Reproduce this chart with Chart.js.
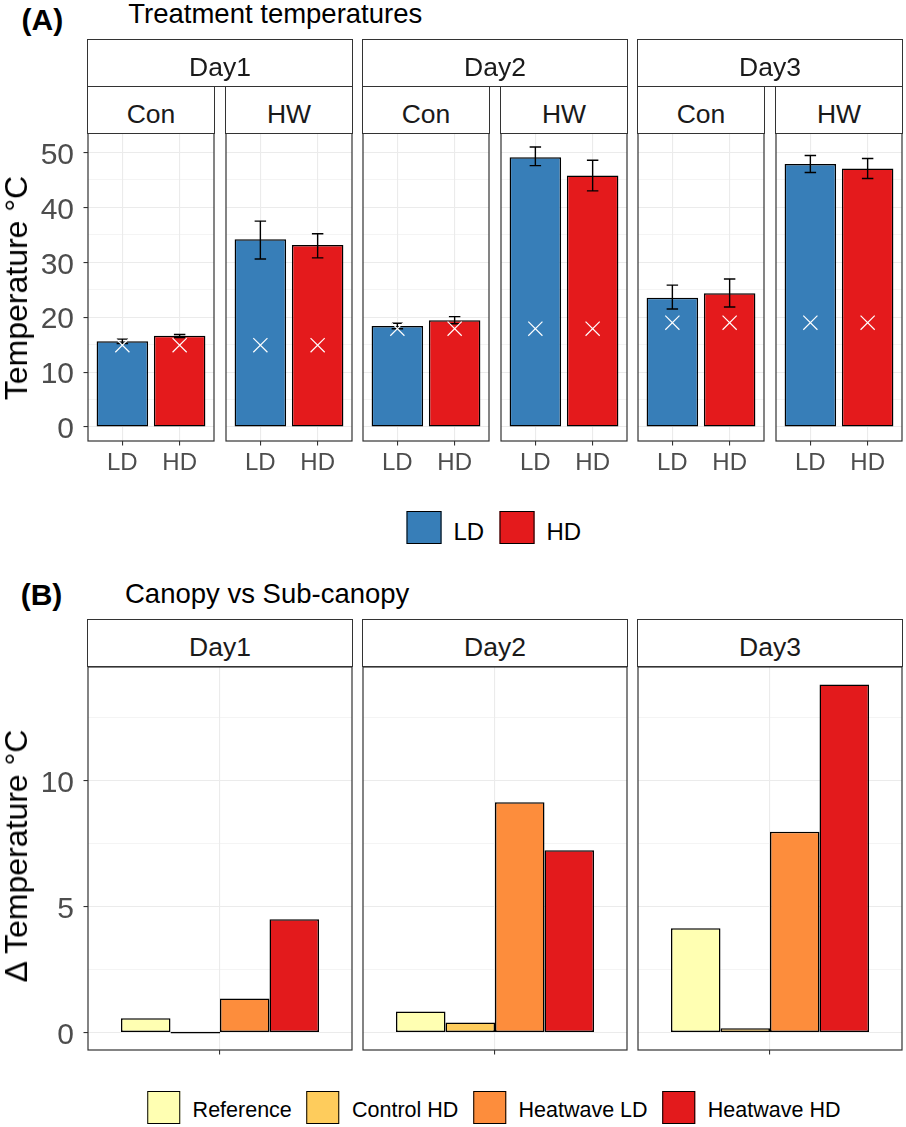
<!DOCTYPE html>
<html><head><meta charset="utf-8">
<script src="https://cdn.jsdelivr.net/npm/chart.js@4.4.0/dist/chart.umd.min.js"></script>
<style>
html,body{margin:0;padding:0;background:#fff;}
#fig{position:relative;width:906px;height:1127px;overflow:hidden;font-family:'Liberation Sans',Arial,sans-serif;background:#fff;}
.txt{position:absolute;white-space:nowrap;line-height:1;color:#000;}
.strip{position:absolute;box-sizing:border-box;border:1.2px solid #333;background:#fff;}
.strip span{position:absolute;left:0;right:0;text-align:center;line-height:1;font-size:26.5px;color:#1a1a1a;white-space:nowrap;}
canvas{position:absolute;}
.legend{position:absolute;display:flex;align-items:center;transform:translateX(-50%);white-space:nowrap;}
.key{box-sizing:border-box;border:1.4px solid #000;flex:none;}
.lab{line-height:1;position:relative;}
</style></head>
<body><div id="fig"></div>
<script>
// ---------------- DATA ----------------
// Panel (A): panels ordered Day1-Con, Day1-HW, Day2-Con, Day2-HW, Day3-Con, Day3-HW
const days = ['Day1', 'Day2', 'Day3'];
const treatments = ['Con', 'HW'];
const densities = ['LD', 'HD'];
const meanLD = [15.6, 34.2, 18.4, 49.15, 23.55, 47.9];
const meanHD = [16.6, 33.15, 19.45, 45.8, 24.35, 47.1];
const lowLD  = [15.2, 30.6, 17.9, 47.6, 21.5, 46.35];
const highLD = [16.0, 37.5, 18.9, 51.0, 25.85, 49.45];
const lowHD  = [16.3, 30.8, 18.8, 43.0, 21.85, 45.25];
const highHD = [16.85, 35.2, 20.1, 48.6, 26.95, 48.9];
const crossTemp = [14.9, 14.9, 17.9, 17.9, 19.0, 19.0];
const yTicksA = [0, 5, 10, 15, 20, 25, 30, 35, 40, 45, 50];
const yLabelsA = [0, 10, 20, 30, 40, 50];

// Panel (B)
const groupsB = ['Reference', 'Control HD', 'Heatwave LD', 'Heatwave HD'];
const reference  = [0.57, 0.84, 4.14];
const controlHD  = [0.0, 0.40, 0.17];
const heatwaveLD = [1.35, 9.14, 7.97];
const heatwaveHD = [4.50, 7.24, 13.82];
const yTicksB = [0, 2.5, 5, 7.5, 10, 12.5];
const yLabelsB = [0, 5, 10];

// ---------------- STYLE / LAYOUT ----------------
const FONT = "'Liberation Sans', Arial, sans-serif";
const colA = ['#377EB8', '#E41A1C'];
const colB = ['#FFFFB2', '#FECC5C', '#FD8D3C', '#E31A1C'];
const GRID = '#EBEBEB', DARK = '#333333', TICKTXT = '#4D4D4D';
const BARLINE = 1.5;

const fig = document.getElementById('fig');
function addText(txt, css) {
  const d = document.createElement('div');
  d.className = 'txt'; d.textContent = txt;
  Object.assign(d.style, css);
  fig.appendChild(d); return d;
}
function addStrip(label, left, top, width, height) {
  const d = document.createElement('div');
  d.className = 'strip';
  Object.assign(d.style, {left: (left - 0.6) + 'px', top: top + 'px', width: (width + 1.2) + 'px', height: height + 'px'});
  const s = document.createElement('span');
  s.textContent = label; s.style.top = '13.7px';
  d.appendChild(s); fig.appendChild(d);
}
function addLegend(items, colors, cx, top, box, fontSize, gapIn, gapOut, shift) {
  const lg = document.createElement('div');
  lg.className = 'legend';
  Object.assign(lg.style, {left: cx + 'px', top: top + 'px'});
  items.forEach((it, i) => {
    const k = document.createElement('div');
    k.className = 'key';
    Object.assign(k.style, {width: box[0] + 'px', height: box[1] + 'px', background: colors[i], marginLeft: (i ? gapOut : 0) + 'px'});
    const t = document.createElement('div');
    t.className = 'lab'; t.textContent = it;
    Object.assign(t.style, {fontSize: fontSize + 'px', marginLeft: gapIn + 'px', top: shift + 'px'});
    lg.appendChild(k); lg.appendChild(t);
  });
  fig.appendChild(lg);
}

// plugins
const panelBorder = {
  id: 'panelBorder',
  afterDraw(chart) {
    const {ctx, chartArea: a} = chart;
    ctx.save(); ctx.strokeStyle = DARK; ctx.lineWidth = 1.2;
    ctx.strokeRect(a.left, a.top, a.right - a.left, a.bottom - a.top);
    ctx.restore();
  }
};
const errorBars = {
  id: 'errorBars',
  afterDatasetDraw(chart, args) {
    const ds = chart.data.datasets[args.index];
    if (!ds.err) return;
    const {ctx} = chart; const x = chart.scales.x, y = chart.scales.y;
    ctx.save(); ctx.strokeStyle = '#000'; ctx.lineWidth = 1.4;
    ds.data.forEach((pt, i) => {
      const [lo, hi] = ds.err[i];
      const cx = x.getPixelForValue(pt.x);
      const hw = x.getPixelForValue(pt.x + 0.1) - cx;
      const yl = y.getPixelForValue(lo), yh = y.getPixelForValue(hi);
      ctx.beginPath();
      ctx.moveTo(cx, yl); ctx.lineTo(cx, yh);
      ctx.moveTo(cx - hw, yl); ctx.lineTo(cx + hw, yl);
      ctx.moveTo(cx - hw, yh); ctx.lineTo(cx + hw, yh);
      ctx.stroke();
    });
    ctx.restore();
  }
};

function yScale(min, max, ticks, labels, first, axisW) {
  return {
    min, max, display: true,
    afterBuildTicks: s => { s.ticks = ticks.map(v => ({value: v})); },
    afterFit: s => { s.width = axisW; s.paddingTop = 0; s.paddingBottom = 0; s.paddingLeft = 0; s.paddingRight = 0; },
    border: {display: false},
    grid: {
      color: GRID,
      lineWidth: c => (c.tick && labels.includes(c.tick.value)) ? 1.1 : 0.55,
      drawTicks: first, tickLength: 4.5, tickWidth: 1.1,
      tickColor: c => (c.tick && labels.includes(c.tick.value)) ? DARK : 'rgba(0,0,0,0)'
    },
    ticks: {
      display: first, autoSkip: false, padding: 9.5, labelOffset: 3, color: TICKTXT,
      font: {family: FONT, size: 30},
      callback: v => labels.includes(v) ? String(v) : ''
    }
  };
}

function makeCanvas(left, top, w, h) {
  const c = document.createElement('canvas');
  c.width = w; c.height = h;
  Object.assign(c.style, {left: left + 'px', top: top + 'px', width: w + 'px', height: h + 'px'});
  fig.appendChild(c); return c.getContext('2d');
}

const baseOpts = {
  responsive: false, animation: false, events: [],
  plugins: {legend: {display: false}, tooltip: {enabled: false}}
};

// ---------------- PANEL (A) ----------------
const PW = 126, PITCH = 137.5, X0 = 88;
const panelLeftA = [0, 1, 2, 3, 4, 5].map(i => Math.round(X0 + i * PITCH));
const topA = 133, hA = 308, xAxisHA = 40;
const yMaxDataA = Math.max(...highLD, ...highHD);
const yMinA = -0.05 * yMaxDataA, yMaxA = yMaxDataA * 1.05;

panelLeftA.forEach((pl, p) => {
  const first = p === 0;
  const padL = first ? 0 : 3, axisW = first ? pl : 0;
  const cLeft = first ? 0 : pl - 3;
  const w = padL + axisW + PW + 3, h = 3 + hA + xAxisHA;
  const ctx = makeCanvas(cLeft, topA - 3, w, h);
  new Chart(ctx, {
    type: 'bar',
    data: {
      datasets: [
        {type: 'line', label: 'ambient', order: -1, showLine: false,
         data: densities.map((d, i) => ({x: i + 1, y: crossTemp[p]})),
         pointStyle: 'crossRot', pointRadius: 10, pointBorderColor: '#FFFFFF', pointBorderWidth: 1.2,
         pointBackgroundColor: 'rgba(0,0,0,0)'},
        {label: densities[0], data: [{x: 1, y: meanLD[p]}], err: [[lowLD[p], highLD[p]]],
         backgroundColor: colA[0], borderColor: '#000', borderWidth: BARLINE, borderSkipped: false,
         grouped: false, barPercentage: 0.9, categoryPercentage: 1},
        {label: densities[1], data: [{x: 2, y: meanHD[p]}], err: [[lowHD[p], highHD[p]]],
         backgroundColor: colA[1], borderColor: '#000', borderWidth: BARLINE, borderSkipped: false,
         grouped: false, barPercentage: 0.9, categoryPercentage: 1}
      ]
    },
    options: Object.assign({}, baseOpts, {
      layout: {autoPadding: false, padding: {left: padL, top: 3, right: 3, bottom: 0}},
      scales: {
        x: {
          type: 'linear', min: 0.4, max: densities.length + 0.6, offset: false,
          afterBuildTicks: s => { s.ticks = densities.map((d, i) => ({value: i + 1})); },
          afterFit: s => { s.height = xAxisHA; s.paddingLeft = 0; s.paddingRight = 0; s.paddingTop = 0; s.paddingBottom = 0; },
          border: {display: false},
          grid: {color: GRID, lineWidth: 1.1, offset: false, drawTicks: true, tickLength: 4.5, tickColor: DARK, tickWidth: 1.1},
          ticks: {autoSkip: false, maxRotation: 0, minRotation: 0, padding: 3, color: TICKTXT,
                  font: {family: FONT, size: 24}, callback: v => densities[Math.round(v) - 1]}
        },
        y: yScale(yMinA, yMaxA, yTicksA, yLabelsA, first, axisW)
      }
    }),
    plugins: [errorBars, panelBorder]
  });
  addStrip(treatments[p % 2], pl, 86, PW, 48);
});
days.forEach((d, i) => {
  const l = panelLeftA[2 * i], r = panelLeftA[2 * i + 1] + PW;
  addStrip(d, l, 39, r - l, 48);
});

// ---------------- PANEL (B) ----------------
const valuesB = [reference, controlHD, heatwaveLD, heatwaveHD];
const panelLeftB = [0, 2, 4].map(i => panelLeftA[i]);
const PWB = panelLeftA[1] + PW - panelLeftA[0];
const topB = 667, hB = 383, xAxisHB = 12;
const yMaxDataB = Math.max(...valuesB.flat());
const yMinB = -0.05 * yMaxDataB, yMaxB = yMaxDataB * 1.05;

panelLeftB.forEach((pl, d) => {
  const first = d === 0;
  const padL = first ? 0 : 3, axisW = first ? pl : 0;
  const cLeft = first ? 0 : pl - 3;
  const w = padL + axisW + PWB + 3, h = 3 + hB + xAxisHB;
  const ctx = makeCanvas(cLeft, topB - 3, w, h);
  new Chart(ctx, {
    type: 'bar',
    data: {
      labels: [''],
      datasets: groupsB.map((g, k) => ({
        label: g, data: [valuesB[k][d]], backgroundColor: colB[k], borderColor: '#000',
        borderWidth: BARLINE, borderSkipped: false, minBarLength: 1.6,
        categoryPercentage: 0.75, barPercentage: 1
      }))
    },
    options: Object.assign({}, baseOpts, {
      layout: {autoPadding: false, padding: {left: padL, top: 3, right: 3, bottom: 0}},
      scales: {
        x: {
          type: 'category', offset: true,
          afterFit: s => { s.height = xAxisHB; s.paddingLeft = 0; s.paddingRight = 0; s.paddingTop = 0; s.paddingBottom = 0; },
          border: {display: false},
          grid: {color: GRID, lineWidth: 1.1, offset: false, drawTicks: true, tickLength: 4.5, tickColor: DARK, tickWidth: 1.1},
          ticks: {autoSkip: false, maxRotation: 0, padding: 0, font: {family: FONT, size: 10}, callback: () => ''}
        },
        y: yScale(yMinB, yMaxB, yTicksB, yLabelsB, first, axisW)
      }
    }),
    plugins: [panelBorder]
  });
  addStrip(days[d], pl, 619, PWB, 48);
});

// ---------------- TEXT ----------------
addText('(A)', {left: '21.5px', top: '5.3px', fontSize: '30px', fontWeight: 'bold'});
addText('Treatment temperatures', {left: '128.3px', top: '0px', fontSize: '27.5px'});
addText('(B)', {left: '20.7px', top: '579.6px', fontSize: '30px', fontWeight: 'bold'});
addText('Canopy vs Sub-canopy', {left: '125px', top: '580px', fontSize: '27.5px'});
addText('Temperature °C', {left: '15.5px', top: '288px', fontSize: '32px', transform: 'translate(-50%,-50%) rotate(-90deg)'});
addText('Δ Temperature °C', {left: '15.5px', top: '856px', fontSize: '32px', transform: 'translate(-50%,-50%) rotate(-90deg)'});

addLegend(densities, colA, 493.7, 511, [35, 33], 24, 12.3, 15, 4);
addLegend(groupsB, colB, 493.7, 1091, [33, 33], 21.5, 12.7, 14.5, 3.3);
</script>
</body></html>
